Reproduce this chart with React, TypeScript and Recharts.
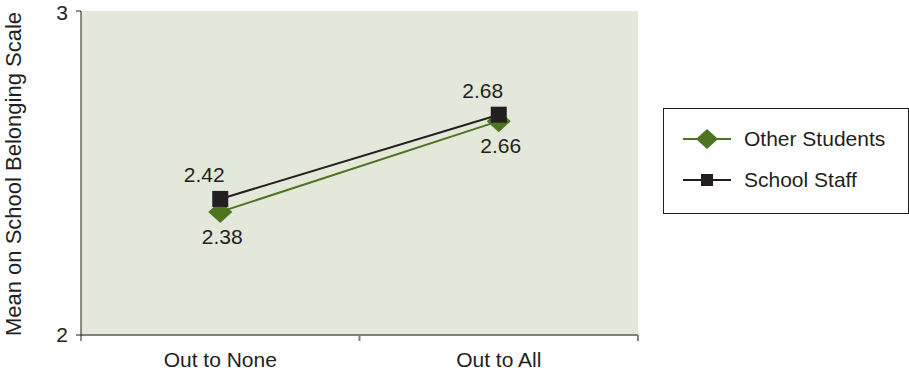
import { LineChart, Line, XAxis, YAxis, CartesianGrid, Legend, LabelList } from "recharts";

const categories = ["Out to None", "Out to All"];
const otherStudents = [2.38, 2.66];
const schoolStaff = [2.42, 2.68];
const yTicks = [2, 3];

const data = categories.map((group, i) => ({
  group,
  students: otherStudents[i],
  staff: schoolStaff[i],
}));

const GREEN = "#4d7420";
const DARK = "#231f20";
const AXIS_GRAY = "#808080";
const FONT = '"Liberation Sans", Arial, sans-serif';
const FS = 21;

const diamondPath = (cx: number, cy: number, rx: number, ry: number) =>
  `M${cx},${cy - ry} L${cx + rx},${cy} L${cx},${cy + ry} L${cx - rx},${cy} Z`;

const Diamond = (props: any) => {
  const { cx, cy, index } = props;
  return <path key={`dia-${index}`} d={diamondPath(cx, cy, 12, 11)} fill={GREEN} />;
};

const Square = (props: any) => {
  const { cx, cy, index } = props;
  return <rect key={`sq-${index}`} x={cx - 8} y={cy - 8} width={16} height={16} fill={DARK} />;
};

// category label in the band centre, tick marks on band edges (Excel style)
const CategoryTick = (props: any) => {
  const { x, y, payload, index } = props;
  const half = payload.offset ?? 0;
  return (
    <g>
      {index === 0 && <line x1={x - half} x2={x - half} y1={y} y2={y + 6} stroke={DARK} />}
      <line x1={x + half} x2={x + half} y1={y} y2={y + 6} stroke={AXIS_GRAY} strokeWidth={2} />
      <text x={x} y={y + 32} textAnchor="middle" fontSize={FS} fill={DARK} fontFamily={FONT}>
        {payload.value}
      </text>
    </g>
  );
};

const AboveLabel = (props: any) => {
  const { x, y, value } = props;
  return (
    <text x={x - 16} y={y - 17} textAnchor="middle" fontSize={FS} fill={DARK} fontFamily={FONT}>
      {Number(value).toFixed(2)}
    </text>
  );
};

const BelowLabel = (props: any) => {
  const { x, y, value } = props;
  return (
    <text x={x + 2} y={y + 32} textAnchor="middle" fontSize={FS} fill={DARK} fontFamily={FONT}>
      {Number(value).toFixed(2)}
    </text>
  );
};

const YTitle = (props: any) => {
  const { viewBox } = props;
  const cy = viewBox.y + viewBox.height / 2;
  return (
    <text
      transform={`translate(${viewBox.x + 21}, ${cy + 1}) rotate(-90)`}
      textAnchor="middle"
      fontSize={22}
      fill={DARK}
      fontFamily={FONT}
    >
      Mean on School Belonging Scale
    </text>
  );
};

const LegendBox = (props: any) => {
  const items = props.payload ?? [];
  return (
    <div
      style={{
        width: 246,
        height: 106,
        boxSizing: "border-box",
        border: `1px solid ${DARK}`,
        background: "#fff",
        paddingTop: 9,
        fontFamily: FONT,
      }}
    >
      {items.map((it: any) => (
        <div key={it.value} style={{ display: "flex", alignItems: "center", height: 41, paddingLeft: 19 }}>
          <svg width={48} height={24}>
            <line x1={0} x2={48} y1={12} y2={12} stroke={it.color} strokeWidth={2} />
            {it.dataKey === "students" ? (
              <path d={diamondPath(24, 12, 11, 10)} fill={GREEN} />
            ) : (
              <rect x={18} y={6} width={12} height={12} fill={DARK} />
            )}
          </svg>
          <span style={{ marginLeft: 13, fontSize: FS, color: DARK }}>{it.value}</span>
        </div>
      ))}
    </div>
  );
};

const App = () => {
  return (
    <div style={{ position: "absolute", left: 0, top: 0, width: 909, height: 373, background: "#fff" }}>
      <LineChart width={909} height={373} data={data} margin={{ top: 11, right: 25, bottom: 0, left: 0 }}>
        <CartesianGrid horizontal={false} vertical={false} fill="#e3e8da" />
        <XAxis
          dataKey="group"
          scale="band"
          height={38}
          axisLine={{ stroke: AXIS_GRAY, strokeWidth: 2 }}
          tickLine={false}
          tickSize={0}
          tickMargin={0}
          tick={<CategoryTick />}
        />
        <YAxis
          width={81}
          domain={[2, 3]}
          ticks={yTicks}
          axisLine={{ stroke: DARK }}
          tickLine={{ stroke: DARK }}
          tickSize={5}
          tickMargin={8}
          tick={{ fill: DARK, fontSize: FS, fontFamily: FONT }}
          label={{ content: <YTitle /> }}
        />
        <Legend
          layout="horizontal"
          align="right"
          verticalAlign="middle"
          content={<LegendBox />}
          wrapperStyle={{ left: 663, top: 108, width: 246, height: 106 }}
        />
        <Line
          name="Other Students"
          dataKey="students"
          stroke={GREEN}
          strokeWidth={2}
          dot={Diamond}
          activeDot={false}
          isAnimationActive={false}
        >
          <LabelList dataKey="students" content={<BelowLabel />} />
        </Line>
        <Line
          name="School Staff"
          dataKey="staff"
          stroke={DARK}
          strokeWidth={2}
          dot={Square}
          activeDot={false}
          isAnimationActive={false}
        >
          <LabelList dataKey="staff" content={<AboveLabel />} />
        </Line>
      </LineChart>
    </div>
  );
};

export default App;
